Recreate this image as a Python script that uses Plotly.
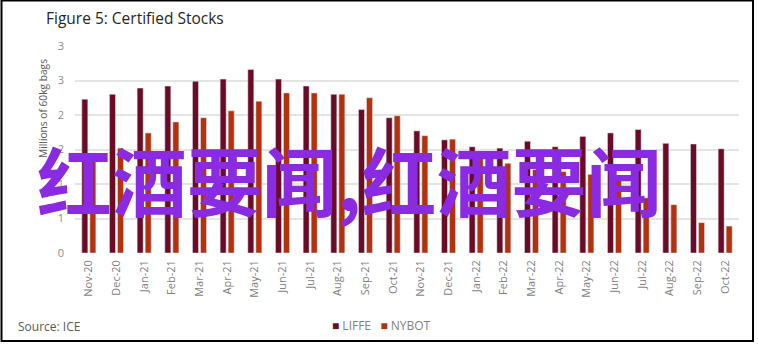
import plotly.graph_objects as go

# Certified coffee stocks by exchange, millions of 60kg bags
months = ["Nov-20", "Dec-20", "Jan-21", "Feb-21", "Mar-21", "Apr-21", "May-21", "Jun-21",
          "Jul-21", "Aug-21", "Sep-21", "Oct-21", "Nov-21", "Dec-21", "Jan-22", "Feb-22",
          "Mar-22", "Apr-22", "May-22", "Jun-22", "Jul-22", "Aug-22", "Sep-22", "Oct-22"]
liffe = [2.23, 2.30, 2.39, 2.42, 2.49, 2.52, 2.66, 2.52, 2.42, 2.30, 2.08, 1.96,
         1.77, 1.64, 1.54, 1.52, 1.62, 1.54, 1.69, 1.74, 1.79, 1.59, 1.58, 1.51]
nybot = [1.40, 1.52, 1.74, 1.90, 1.96, 2.06, 2.20, 2.32, 2.32, 2.30, 2.25, 1.99,
         1.70, 1.65, 1.45, 1.30, 1.21, 1.18, 1.14, 1.05, 0.80, 0.70, 0.44, 0.39]
y_ticks = [0, 0.5, 1, 1.5, 2, 2.5, 3]

LIFFE_COLOR = "#6b0b25"
NYBOT_COLOR = "#b3310c"
FONT = "Open Sans"

W, H = 758, 345
ML, MR, MT, MB = 75, 19, 46, 92
PW, PH = W - ML - MR, H - MT - MB


def paper_x(px):
    return (px - ML) / PW


def paper_y(py):
    return (H - MB - py) / PH


fig = go.Figure()
fig.add_trace(go.Bar(name="LIFFE", x=months, y=liffe, marker_color=LIFFE_COLOR,
                     showlegend=False))
fig.add_trace(go.Bar(name="NYBOT", x=months, y=nybot, marker_color=NYBOT_COLOR,
                     showlegend=False))

annotations = [
    # chart title
    dict(text="Figure 5: Certified Stocks", xref="paper", yref="paper",
         x=paper_x(44), y=paper_y(18), xanchor="left", yanchor="middle",
         showarrow=False, font=dict(family=FONT, size=15.5, color="#262626")),
    # y axis title
    dict(text="Millions of 60kg bags", xref="paper", yref="paper",
         x=paper_x(43), y=paper_y(109), textangle=-90, xanchor="center", yanchor="middle",
         showarrow=False, font=dict(family=FONT, size=10.2, color="#595959")),
    # source note
    dict(text="Source: ICE", xref="paper", yref="paper",
         x=paper_x(16), y=paper_y(326), xanchor="left", yanchor="middle",
         showarrow=False, font=dict(family=FONT, size=12, color="#595959")),
    # series key
    dict(text=(f"<span style='color:{LIFFE_COLOR}'>■</span> LIFFE   "
               f"<span style='color:{NYBOT_COLOR}'>■</span> NYBOT"),
         xref="paper", yref="paper", x=paper_x(381), y=paper_y(325),
         xanchor="center", yanchor="middle", showarrow=False,
         font=dict(family=FONT, size=12, color="#7f7f7f")),
    # overlay text
    dict(text="红酒要闻,红酒要闻", xref="paper", yref="paper",
         x=paper_x(349), y=paper_y(178), xanchor="center", yanchor="middle",
         showarrow=False,
         font=dict(family="Noto Sans CJK SC", size=75, color="#8a2be2", weight=700)),
]

fig.update_layout(
    width=W, height=H,
    margin=dict(l=ML, r=MR, t=MT, b=MB),
    paper_bgcolor="white", plot_bgcolor="white",
    barmode="group", bargap=0.42, bargroupgap=0.25,
    font=dict(family=FONT, color="#7f7f7f"),
    annotations=annotations,
    shapes=[dict(type="rect", xref="paper", yref="paper",
                 x0=paper_x(1.5), x1=paper_x(753), y0=paper_y(341), y1=paper_y(0.5),
                 line=dict(color="black", width=2), layer="above")],
)
fig.update_xaxes(
    type="category", tickangle=-90, showgrid=False, showline=False, zeroline=False,
    ticks="", tickfont=dict(family=FONT, size=11, color="#7f7f7f"),
    ticklabelstandoff=4,
)
fig.update_yaxes(
    range=[0, 3], tickvals=y_ticks, tickformat=".0f",
    showgrid=True, gridcolor="#e4e4e4", gridwidth=1.5, zeroline=False, showline=False,
    ticks="", tickfont=dict(family=FONT, size=11, color="#8c8c8c"),
    ticklabelstandoff=10,
)

fig.write_html("out.html")
